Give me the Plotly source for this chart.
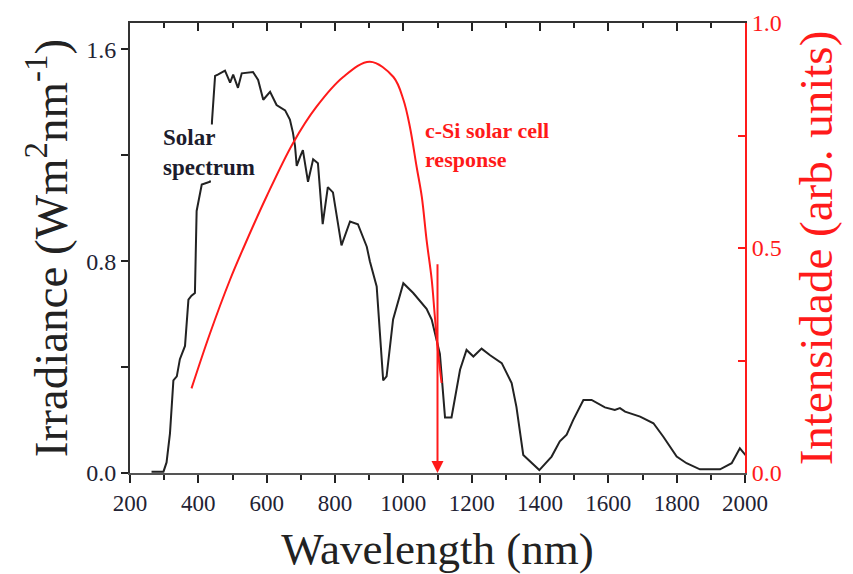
import plotly.graph_objects as go

# Solar spectrum (wavelength nm, irradiance W m^-2 nm^-1)
solar_nm = [263, 298, 307, 317, 327, 337, 346, 361, 371, 380, 390, 395,
            410, 434, 440, 449, 457, 478, 493, 502, 516, 527, 560, 575, 590, 610,
            629, 654, 668, 677, 683, 688, 698, 706, 721, 736, 750, 764, 779, 794,
            819, 844, 867, 893, 902, 922, 941, 951, 970, 1000, 1029, 1068, 1083,
            1107, 1122, 1141, 1166, 1185, 1205, 1229, 1254, 1288, 1317, 1331,
            1351, 1398, 1434, 1458, 1478, 1497, 1527, 1551, 1590, 1619, 1634,
            1649, 1693, 1732, 1761, 1800, 1829, 1868, 1927, 1961, 1985, 2005]
solar_irr = [0.005, 0.005, 0.04, 0.15, 0.35, 0.365, 0.43, 0.48, 0.655, 0.67, 0.68, 0.99,
             1.09, 1.10, 1.33, 1.50, 1.505, 1.52, 1.475, 1.505, 1.455, 1.51, 1.515, 1.485, 1.41, 1.44,
             1.39, 1.37, 1.335, 1.285, 1.235, 1.16, 1.195, 1.22, 1.10, 1.185, 1.17, 0.94, 1.08, 1.06,
             0.86, 0.95, 0.94, 0.855, 0.80, 0.705, 0.35, 0.365, 0.58, 0.717, 0.68, 0.62, 0.58,
             0.45, 0.21, 0.21, 0.39, 0.465, 0.44, 0.47, 0.445, 0.415, 0.34, 0.25,
             0.068, 0.011, 0.062, 0.12, 0.145, 0.20, 0.276, 0.276, 0.248, 0.238, 0.245,
             0.232, 0.213, 0.188, 0.137, 0.062, 0.037, 0.014, 0.014, 0.037, 0.093, 0.062]

# c-Si solar cell response (arb. units)
cell_nm = [380, 434, 493, 532, 600, 677, 746, 824, 902, 971, 1000, 1019, 1039,
           1054, 1068, 1083, 1092, 1102, 1112]
cell_resp = [0.188, 0.31, 0.43, 0.50, 0.615, 0.733, 0.814, 0.88, 0.914, 0.88, 0.83, 0.77, 0.68,
             0.614, 0.518, 0.430, 0.35, 0.266, 0.20]

cutoff_nm = 1100
cutoff_top = 0.467

x_ticks = [200, 400, 600, 800, 1000, 1200, 1400, 1600, 1800, 2000]

FONT = "Liberation Serif, Times New Roman, serif"
RED = "#ff1a1a"

fig = go.Figure()
fig.add_trace(go.Scatter(x=solar_nm, y=solar_irr, mode="lines",
                         line=dict(color="#222222", width=2), xaxis="x", yaxis="y", showlegend=False))
fig.add_trace(go.Scatter(x=cell_nm, y=cell_resp, mode="lines", line_shape="spline",
                         line=dict(color=RED, width=2), xaxis="x2", yaxis="y2", showlegend=False))

fig.add_annotation(x=cutoff_nm, y=0, xref="x2", yref="y2",
                   ax=cutoff_nm, ay=cutoff_top, axref="x2", ayref="y2",
                   showarrow=True, arrowhead=2, arrowsize=1.2, arrowwidth=2, arrowcolor=RED, text="")

fig.add_annotation(x=295, y=1.21, xref="x", yref="y", text="<b>Solar<br>spectrum</b>",
                   showarrow=False, xanchor="left", yanchor="middle", align="left",
                   bgcolor="white", borderpad=0,
                   font=dict(family=FONT, size=23, color="#1c1c2c"))
fig.add_annotation(x=1057, y=0.73, xref="x2", yref="y2", text="<b>c-Si solar cell<br>response</b>",
                   showarrow=False, xanchor="left", yanchor="middle", align="left",
                   font=dict(family=FONT, size=22, color=RED))

fig.update_layout(
    width=853, height=574,
    margin=dict(l=130, r=108, t=23, b=101),
    paper_bgcolor="white", plot_bgcolor="white",
    font=dict(family=FONT, color="#222222"),
    xaxis=dict(range=[200, 2000], tickvals=x_ticks, ticks="outside", ticklen=8, tickwidth=2,
               tickcolor="#222222", showline=True, linecolor="#555555", linewidth=2,
               showgrid=False, zeroline=False, automargin=False,
               minor=dict(dtick=100, tick0=200, ticks="outside", ticklen=5, tickwidth=2, tickcolor="#222222"),
               tickfont=dict(family=FONT, size=23, color="#222233"),
               title=dict(text="Wavelength (nm)", font=dict(family=FONT, size=45, color="#222222"),
                          standoff=20)),
    xaxis2=dict(range=[200, 2000], overlaying="x", side="top", anchor="y2",
                tickvals=x_ticks, ticks="inside", ticklen=8, tickwidth=2, tickcolor="#222222",
                showticklabels=False, showline=True, linecolor="#333333", linewidth=2,
                showgrid=False, zeroline=False, automargin=False,
                minor=dict(dtick=100, tick0=200, ticks="inside", ticklen=5, tickwidth=2, tickcolor="#222222")),
    yaxis=dict(range=[0, 1.7], tickvals=[0, 0.8, 1.6], tickformat=".1f", ticks="outside",
               ticklen=7, tickwidth=2, tickcolor="#222222",
               showline=True, linecolor="#333333", linewidth=2, showgrid=False, zeroline=False,
               automargin=False,
               minor=dict(tickvals=[0.4, 1.2], ticks="outside", ticklen=7, tickwidth=2, tickcolor="#222222"),
               tickfont=dict(family=FONT, size=24, color="#222233"),
               title=dict(text="Irradiance (Wm<sup>2</sup>nm<sup>-1</sup>)",
                          font=dict(family=FONT, size=47, color="#222222"), standoff=4)),
    yaxis2=dict(range=[0, 1.0], overlaying="y", side="right", anchor="x2",
                tickvals=[0, 0.5, 1.0], tickformat=".1f", ticks="inside", ticklen=7, tickwidth=2,
                tickcolor=RED, showline=True, linecolor=RED, linewidth=2,
                showgrid=False, zeroline=False, automargin=False,
                minor=dict(tickvals=[0.25, 0.75], ticks="inside", ticklen=7, tickwidth=2, tickcolor=RED),
                tickfont=dict(family=FONT, size=24, color=RED),
                title=dict(text="Intensidade (arb. units)", font=dict(family=FONT, size=47, color=RED),
                           standoff=18)),
)

fig.write_html("out.html")
